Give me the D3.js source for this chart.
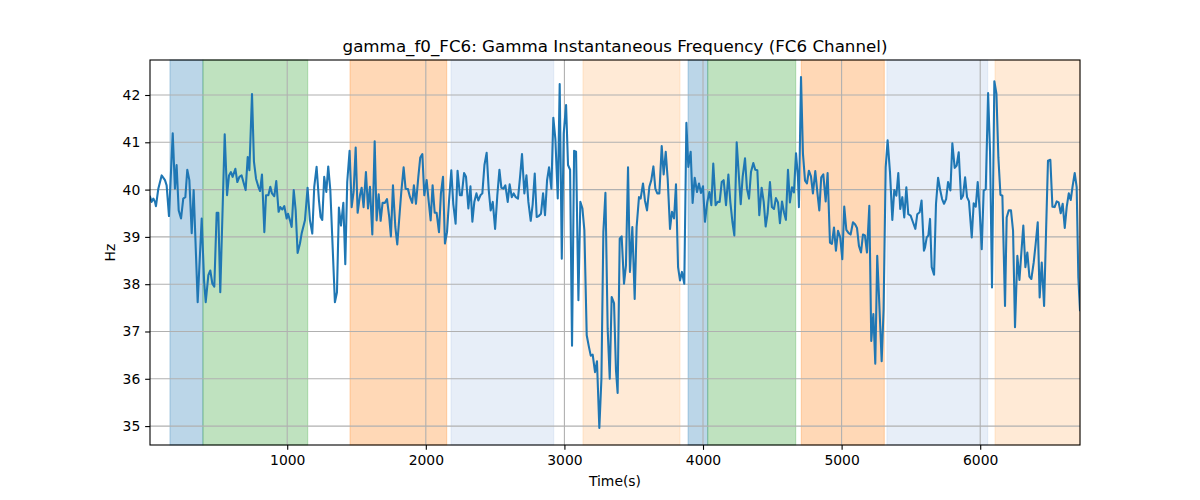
<!DOCTYPE html>
<html>
<head>
<meta charset="utf-8">
<script src="https://cdn.jsdelivr.net/npm/d3@7"></script>
<style>
  html, body { margin: 0; padding: 0; background: #fff; }
  text { font-family: "DejaVu Sans", sans-serif; }
</style>
</head>
<body>
<svg id="chart" width="1200" height="500"></svg>
<script>
const titleText = "gamma_f0_FC6: Gamma Instantaneous Frequency (FC6 Channel)";
const xLabelText = "Time(s)";
const yLabelText = "Hz";

const xTicks = [1000, 2000, 3000, 4000, 5000, 6000];
const yTicks = [35, 36, 37, 38, 39, 40, 41, 42];
const xDomain = [10, 6720];
const yDomain = [34.6, 42.74];

const spanStarts = [154, 392, 1453, 2182, 3134, 3892, 4034, 4709, 5327, 6107];
const spanEnds   = [392, 1148, 2151, 2923, 3834, 4034, 4669, 5308, 6054, 6720];
const spanKinds  = ["blue", "green", "orange", "lightblue", "lightorange",
                    "blue", "green", "orange", "lightblue", "lightorange"];

const times = [
10,22,34,46,53,70,94,118,130,147,174,190,202,217,234,250,265,279,294,311,325,354,383,400,412,431,445,460,474,491,503,517,549,566,580,594,606,626,640,655,671,700,715,727,746,760,775,792,804,818,835,847,864,878,890,907,921,938,950,965,979,996,1006,1020,1032,1047,1061,1075,1092,1104,1128,
1147,1164,1181,1195,1212,1229,1241,1253,1267,1282,1296,1311,1344,1359,1373,1388,1405,1419,1433,1450,1465,1479,1494,1508,1525,1537,1551,1568,1583,1597,1614,1631,1645,1660,1674,1688,1705,1720,1736,1748,1763,1780,1794,1811,1823,1840,1854,1871,1886,1902,1914,1929,1946,1960,1975,1989,2006,2020,2035,2049,2064,2078,2095,2109,2124,2138,2153,2167,2184,2198,2215,2229,2246,
2259,2276,2290,2307,2322,2336,2350,2365,2379,2394,2408,2423,2439,2454,2468,2483,2500,2516,2531,2545,2560,2574,2591,2605,2620,2634,2649,2665,2680,2694,2711,2726,2740,2757,2771,2786,2800,2815,2831,2846,2860,2875,2889,2906,2920,2935,2952,2966,2981,2995,3012,3026,3041,3055,3070,3084,3101,3115,3130,3144,3161,3175,3190,3204,3221,3235,3252,3267,3281,3296,3312,3327,3341,3358,
3372,3384,3399,3413,3430,3444,3459,3473,3490,3507,3521,3538,3550,3567,3581,3596,3613,3627,3642,3656,3670,3685,3702,3716,3731,3745,3762,3776,3791,3805,3820,3834,3848,3865,3880,3894,3911,3925,3940,3957,3971,3985,4000,4014,4031,4046,4060,4074,4091,4106,4120,4135,4149,4166,4183,4197,4212,4226,4243,4257,4272,4286,4303,4317,4332,4346,4363,4377,4392,4406,4423,4438,4452,4466,4483,
4497,4512,4526,4541,4555,4570,4584,4598,4613,4627,4642,4656,4671,4685,4692,4707,4721,4736,4750,4764,4779,4793,4810,4825,4839,4853,4868,4885,4899,4916,4930,4945,4959,4974,4990,5005,5019,5034,5051,5065,5082,5096,5111,5125,5140,5154,5168,5183,5200,5214,5229,5243,5257,5272,5289,5303,5318,5332,5349,5366,5380,5395,5409,5423,5438,5452,5467,5481,5498,5515,5532,5546,5563,5577,5594,
5602,5614,5626,5638,5650,5667,5681,5696,5710,5725,5739,5754,5768,5785,5799,5816,5830,5845,5862,5876,5891,5905,5919,5939,5953,5968,5982,5996,6011,6025,6040,6057,6071,6085,6102,6117,6131,6146,6160,6179,6191,6206,6222,6237,6251,6268,6283,6297,6311,6326,6340,6355,6369,6386,6400,6415,6429,6444,6461,6475,6489,6506,6521,6537,6552,6566,6581,6595,6610,6624,6639,6653,6667,6682,6696,6708,6720
];

const freqs = [
39.85,39.74,39.81,39.74,39.65,40.02,40.30,40.20,40.09,39.44,41.19,40.02,40.52,39.56,39.39,39.81,39.84,40.42,40.20,39.08,39.99,37.62,39.39,38.08,37.62,38.19,38.29,38.01,37.95,39.51,39.51,37.83,41.17,39.88,40.30,40.37,40.27,40.44,40.16,40.27,40.30,39.99,40.69,40.41,42.02,40.59,40.23,40.06,39.97,40.32,39.10,39.88,39.88,40.06,39.92,39.86,40.18,39.53,39.63,39.58,39.65,39.39,39.49,39.35,39.21,39.99,39.56,38.66,38.86,39.07,39.35,
40.04,39.35,39.07,40.06,40.48,39.77,39.42,39.36,40.27,39.95,40.49,39.99,37.62,37.83,39.62,39.24,39.72,38.42,40.16,40.82,39.63,39.95,40.89,39.51,39.88,40.04,39.63,40.37,39.60,40.06,39.05,41.02,39.35,39.90,39.34,39.72,39.72,39.80,39.42,39.01,40.09,39.21,38.84,39.49,39.95,40.47,40.02,40.01,39.84,39.72,40.09,39.70,40.27,40.68,40.75,39.88,40.20,39.77,39.35,40.09,39.51,39.51,39.10,39.92,40.27,38.86,39.10,39.74,40.41,39.70,39.28,40.40,39.88,
39.88,40.35,40.27,39.60,40.07,39.32,39.74,39.92,39.77,39.88,39.92,40.52,40.78,39.99,39.56,39.74,39.17,39.88,40.42,40.04,40.02,40.09,39.74,40.11,39.84,39.92,39.84,39.81,40.27,40.75,39.92,40.30,39.74,39.34,39.69,40.34,39.42,39.44,39.49,39.92,39.46,40.20,40.47,40.02,41.52,41.06,39.81,42.23,38.54,41.19,41.79,40.52,40.42,36.70,40.82,40.80,37.66,39.74,39.60,39.14,36.92,36.70,36.49,36.51,36.14,36.37,34.96,36.00,39.10,39.93,37.06,36.00,37.73,37.60,
36.18,35.70,38.96,39.01,38.01,38.40,40.47,38.26,39.21,37.69,39.21,39.84,39.81,40.13,39.77,39.56,40.06,40.20,40.49,40.02,39.92,39.92,40.92,40.32,40.80,40.23,39.17,39.53,39.39,40.11,38.36,38.08,38.26,38.01,41.41,40.48,40.80,39.72,40.25,39.95,40.13,39.93,40.07,39.32,39.74,39.95,39.67,40.55,39.67,39.74,39.74,40.16,40.20,39.67,40.32,39.74,39.32,39.03,41.00,40.37,39.69,40.27,40.66,40.02,39.81,40.37,40.56,40.42,40.41,39.46,40.04,39.74,39.22,39.49,40.16,
39.63,39.59,39.82,39.73,39.29,39.75,39.52,39.36,40.42,39.73,40.05,39.94,40.77,40.26,39.63,42.38,40.76,40.19,40.13,40.40,40.28,39.92,40.39,39.94,39.56,40.26,40.32,39.75,40.35,38.88,38.85,39.20,38.71,39.13,38.99,38.53,39.64,39.15,39.08,39.05,39.31,39.27,39.19,38.81,38.67,39.05,39.03,38.67,39.66,36.80,37.37,36.32,38.60,37.58,36.37,37.47,40.47,41.04,40.37,39.36,39.99,39.87,40.35,39.59,39.84,39.41,40.05,39.48,39.45,39.31,39.17,39.48,39.52,39.77,38.71,
38.78,38.99,39.03,39.38,38.36,38.20,39.70,40.25,40.01,39.80,39.70,39.80,40.16,39.98,40.98,40.46,40.51,40.79,39.80,39.87,40.26,39.84,39.75,38.99,39.71,39.64,40.16,39.56,38.74,39.98,40.01,42.04,40.79,37.93,42.29,42.03,40.68,39.89,39.87,37.54,39.41,39.56,39.56,39.13,37.09,38.60,38.09,38.67,39.24,38.36,38.67,38.16,38.11,38.46,38.85,39.31,37.72,38.46,37.54,39.10,40.61,40.63,39.64,39.63,39.75,39.73,39.50,39.70,39.19,39.63,39.92,39.78,40.08,40.35,40.05,38.14,37.45
];

const spanColor = d3.scaleOrdinal()
  .domain(["blue", "green", "orange", "lightblue", "lightorange"])
  .range(["#1f77b4", "#2ca02c", "#ff7f0e", "#aec7e8", "#ffbb78"]);

const margin = {left: 150, right: 120, top: 60, bottom: 55};
const W = 1200, H = 500;
const innerW = W - margin.left - margin.right;
const innerH = H - margin.top - margin.bottom;

const svg = d3.select("#chart");
const g = svg.append("g").attr("transform", `translate(${margin.left},${margin.top})`);

const x = d3.scaleLinear().domain(xDomain).range([0, innerW]);
const y = d3.scaleLinear().domain(yDomain).range([innerH, 0]);

// spans
const spans = spanStarts.map((s, i) => ({s, e: spanEnds[i], k: spanKinds[i]}));
g.append("g").selectAll("rect").data(spans).join("rect")
  .attr("x", d => x(d.s))
  .attr("width", d => x(d.e) - x(d.s))
  .attr("y", 0)
  .attr("height", innerH)
  .attr("fill", d => spanColor(d.k))
  .attr("fill-opacity", 0.3)
  .attr("stroke", d => spanColor(d.k))
  .attr("stroke-opacity", 0.3)
  .attr("stroke-width", 1);

// grid
const grid = g.append("g");
grid.selectAll("line.gx").data(xTicks).join("line")
  .attr("x1", d => x(d)).attr("x2", d => x(d))
  .attr("y1", 0).attr("y2", innerH)
  .attr("stroke", "#b0b0b0").attr("stroke-width", 1.1);
grid.selectAll("line.gy").data(yTicks).join("line")
  .attr("y1", d => y(d)).attr("y2", d => y(d))
  .attr("x1", 0).attr("x2", innerW)
  .attr("stroke", "#b0b0b0").attr("stroke-width", 1.1);

// line
const data = times.map((t, i) => ({t, v: freqs[i]}));
g.append("defs").append("clipPath").attr("id", "clip")
  .append("rect").attr("width", innerW).attr("height", innerH);
g.append("path")
  .datum(data)
  .attr("clip-path", "url(#clip)")
  .attr("fill", "none")
  .attr("stroke", "#1f77b4")
  .attr("stroke-width", 2.08)
  .attr("stroke-linejoin", "round")
  .attr("stroke-linecap", "square")
  .attr("d", d3.line().x(d => x(d.t)).y(d => y(d.v)));

// axes
const xAxis = g.append("g").attr("transform", `translate(0,${innerH})`)
  .call(d3.axisBottom(x).tickValues(xTicks).tickFormat(d3.format("d"))
        .tickSizeOuter(0).tickSizeInner(4.86).tickPadding(4.86));
const yAxis = g.append("g")
  .call(d3.axisLeft(y).tickValues(yTicks).tickFormat(d3.format("d"))
        .tickSizeOuter(0).tickSizeInner(4.86).tickPadding(4.86));
[xAxis, yAxis].forEach(a => {
  a.select(".domain").remove();
  a.selectAll(".tick line").attr("stroke", "#000").attr("stroke-width", 1.1);
  a.selectAll(".tick text").attr("font-size", "13.9px").attr("fill", "#000")
    .attr("font-family", "DejaVu Sans, sans-serif");
});

// frame
g.append("rect").attr("width", innerW).attr("height", innerH)
  .attr("fill", "none").attr("stroke", "#000").attr("stroke-width", 1.1);

// labels
svg.append("text").attr("x", margin.left + innerW / 2).attr("y", 52)
  .attr("text-anchor", "middle").attr("font-size", "16.7px").text(titleText);
svg.append("text").attr("x", margin.left + innerW / 2).attr("y", 486)
  .attr("text-anchor", "middle").attr("font-size", "13.9px").text(xLabelText);
svg.append("text").attr("transform", `translate(115,${margin.top + innerH / 2}) rotate(-90)`)
  .attr("text-anchor", "middle").attr("font-size", "13.9px").text(yLabelText);
</script>
</body>
</html>
